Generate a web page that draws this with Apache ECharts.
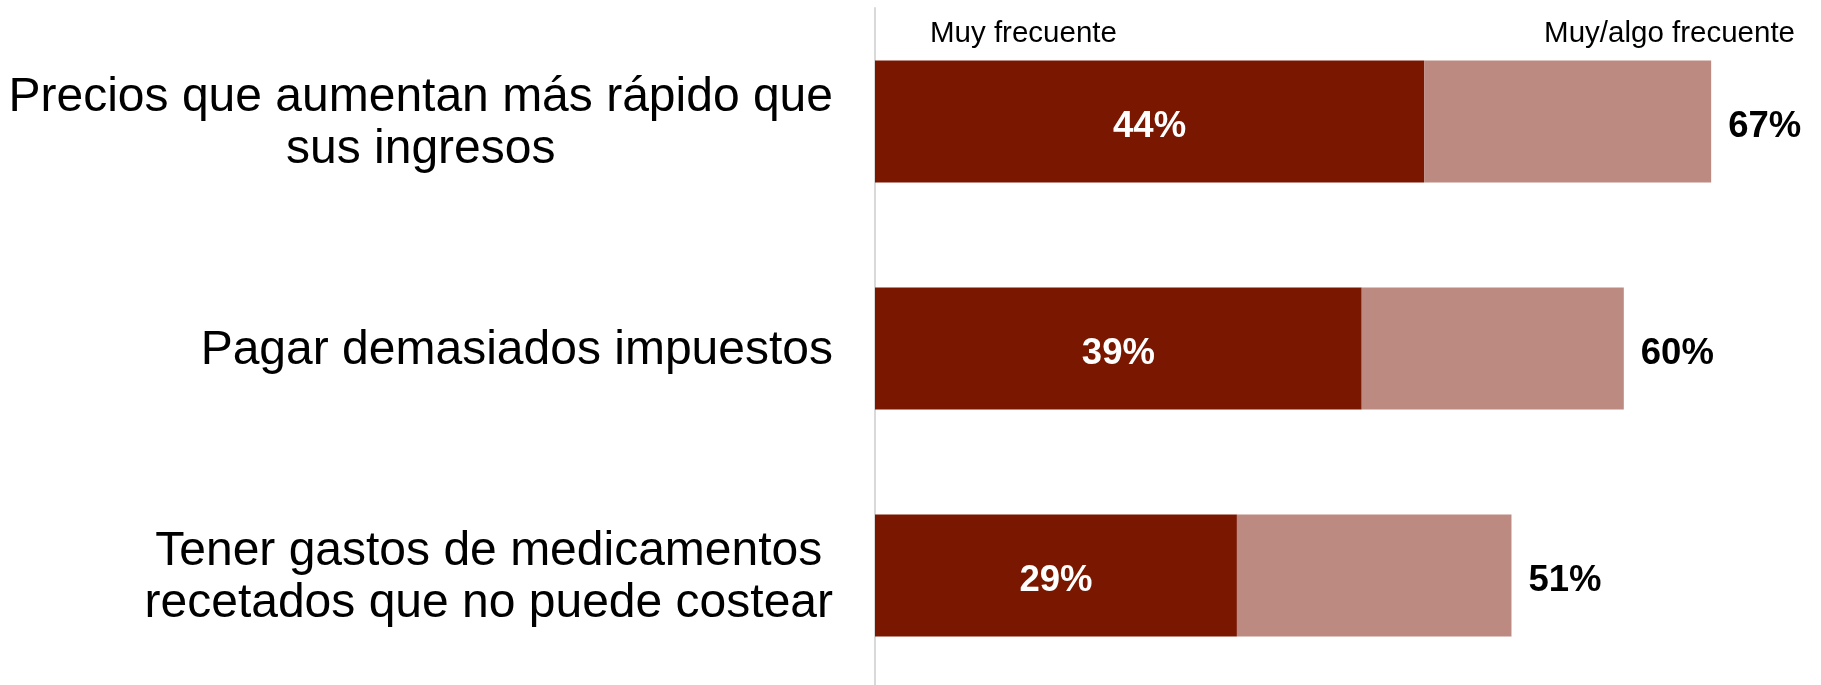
<!DOCTYPE html>
<html>
<head>
<meta charset="utf-8">
<script src="https://cdn.jsdelivr.net/npm/echarts@6/dist/echarts.min.js"></script>
<style>
html,body{margin:0;padding:0;background:#fff;}
#chart{width:1821px;height:685px;}
</style>
</head>
<body>
<div id="chart"></div>
<script>
const categories = [
  'Precios que aumentan más rápido que\nsus ingresos',
  'Pagar demasiados impuestos',
  'Tener gastos de medicamentos\nrecetados que no puede costear'
];
const muyFrecuente = [44, 39, 29];
const muyAlgoFrecuente = [67, 60, 51];
const headerLabels = ['Muy frecuente', 'Muy/algo frecuente'];

const algoFrecuente = muyAlgoFrecuente.map((t, i) => t - muyFrecuente[i]);
const FONT = "'Liberation Sans', Arial, sans-serif";

const chart = echarts.init(document.getElementById('chart'), null, {renderer: 'canvas'});
chart.setOption({
  animation: false,
  backgroundColor: '#ffffff',
  textStyle: {fontFamily: FONT},
  grid: {left: 875, right: 10, top: 8, height: 681, containLabel: false, outerBoundsMode: 'none'},
  xAxis: {type: 'value', min: 0, max: 75, show: false},
  yAxis: {
    type: 'category',
    data: categories,
    inverse: true,
    axisLine: {show: true, lineStyle: {color: '#d9d9d9', width: 2}},
    axisTick: {show: false},
    splitLine: {show: false},
    axisLabel: {
      margin: 42,
      align: 'right',
      formatter: v => {
        const lines = v.split('\n');
        if (lines.length === 1) return '{s|' + lines[0] + '}';
        return lines.map((l, i) => (i === 0 ? '{f|' : '{c|') + l + '}').join('\n');
      },
      rich: {
        s: {fontSize: 48, lineHeight: 56, align: 'center', color: '#000', fontFamily: FONT, padding: [4, 0, 0, 0]},
        f: {fontSize: 48, lineHeight: 56, align: 'center', color: '#000', fontFamily: FONT, padding: [10, 0, 0, 0]},
        c: {fontSize: 48, lineHeight: 58, align: 'center', color: '#000', fontFamily: FONT}
      }
    }
  },
  graphic: [
    {type: 'text', left: 930, top: 19, style: {text: headerLabels[0], font: "29.5px " + FONT, fill: '#000'}},
    {type: 'text', right: 1821 - 1795, top: 19, style: {text: headerLabels[1], font: "29.5px " + FONT, fill: '#000'}}
  ],
  series: [
    {
      name: headerLabels[0], type: 'bar', stack: 'a', barWidth: 122,
      data: muyFrecuente,
      itemStyle: {color: '#7A1700'},
      label: {show: true, position: 'inside', offset: [0, 5], color: '#fff', fontSize: 36.5, fontWeight: 'bold', fontFamily: FONT,
        formatter: p => p.value + '%'}
    },
    {
      name: headerLabels[1], type: 'bar', stack: 'a', barWidth: 122,
      data: algoFrecuente,
      itemStyle: {color: '#BC8A80'},
      label: {show: true, position: 'right', distance: 17, offset: [0, 5], color: '#000', fontSize: 36.5, fontWeight: 'bold', fontFamily: FONT,
        formatter: p => muyAlgoFrecuente[p.dataIndex] + '%'}
    }
  ]
});
</script>
</body>
</html>
